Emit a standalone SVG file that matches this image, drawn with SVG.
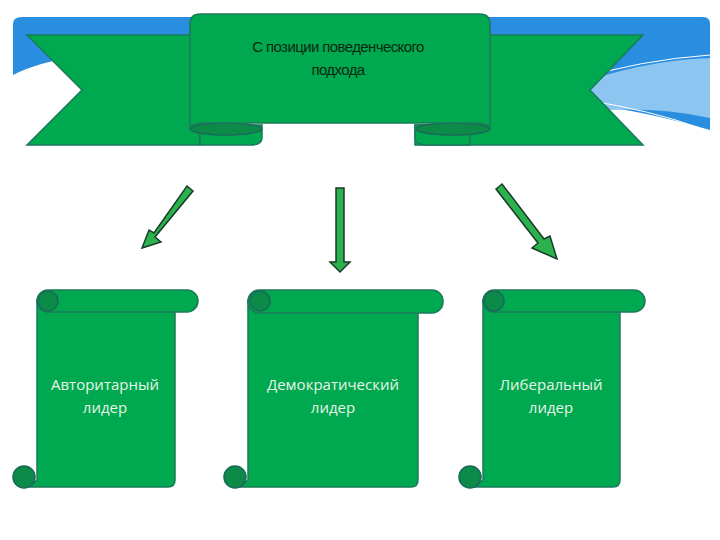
<svg xmlns="http://www.w3.org/2000/svg" width="720" height="540" viewBox="0 0 720 540">
<style>
.g{fill:#00a84f;stroke:#1a7a5a;stroke-width:1.5}
.d{fill:#0c8a48;stroke:#1a6a5a;stroke-width:1.5}
.t{font-family:"Open Sans","DejaVu Sans",sans-serif;font-size:15px;fill:#e8f5e8;text-anchor:middle}
.h{font-family:"Liberation Sans",Arial,sans-serif;font-size:15px;fill:#0a2a10;text-anchor:middle;letter-spacing:-0.6px}
.a{fill:#2bb24c;stroke:#1a3a2a;stroke-width:1.5}
</style>
<rect width="720" height="540" fill="#fff"/>
<g id="background">
<path d="M13,24 Q13,17 22,17 L703,17 Q710,17 710,24 L710,130 Q640,110 590,105 L590,70 Q400,40 200,45 Q60,50 13,75 Z" fill="#2a8ee0"/>
<path d="M560,90 Q640,60 710,58 L710,118 Q650,105 580,112 Z" fill="#8cc6f0"/>
<path d="M575,80 Q640,60 710,55" fill="none" stroke="#fff" stroke-width="1"/>
<path d="M585,100 Q650,110 700,128" fill="none" stroke="#fff" stroke-width="1"/>
</g>
<g id="banner">
<polygon class="g" points="27,35 200,35 200,145 27,145 82,90"/>
<polygon class="g" points="480,35 643,35 590,90 643,145 415,145 415,125 480,125"/>
<path class="g" d="M262,125 L262,138 Q262,145 250,145 L200,145 L200,125 Z"/>
<path class="g" d="M415,125 L415,138 Q415,145 427,145 L470,145 L470,125 Z"/>
<ellipse class="d" cx="226" cy="129" rx="36" ry="6"/>
<ellipse class="d" cx="453" cy="129" rx="37" ry="6"/>
<path class="g" d="M190,24 Q190,14 200,14 L480,14 Q490,14 490,24 L490,128 Q490,123 470,123 L210,123 Q190,123 190,128 Z"/>
<text class="h" x="338" y="52">С позиции поведенческого</text>
<text class="h" x="338" y="75">подхода</text>
</g>
<g id="connectors">
<polygon class="a" points="187,186 193,191 155,237 161,242 142,248 149,230 154,233" />
<polygon class="a" points="336,188 344,188 344,262 350,262 340,272 330,262 336,262"/>
<polygon class="a" points="502,184 496,189 538,243 532,248 557,259 550,236 544,239"/>
</g>
<g id="scroll1">
<path class="g" d="M37,300 L175,300 L175,480 Q175,487 168,487 L30,487 L37,480 Z"/>
<rect class="g" x="37" y="290" width="161" height="22" rx="11"/>
<circle class="d" cx="48" cy="301" r="10"/>
<circle class="d" cx="24" cy="477" r="11"/>
<text class="t" x="105" y="390">Авторитарный</text>
<text class="t" x="105" y="413">лидер</text>
</g>
<g id="scroll2">
<path class="g" d="M248,300 L418,300 L418,480 Q418,487 411,487 L240,487 L248,480 Z"/>
<rect class="g" x="248" y="290" width="195" height="23" rx="11"/>
<circle class="d" cx="260" cy="301" r="10"/>
<circle class="d" cx="235" cy="477" r="11"/>
<text class="t" x="333" y="390">Демократический</text>
<text class="t" x="333" y="413">лидер</text>
</g>
<g id="scroll3">
<path class="g" d="M483,300 L620,300 L620,480 Q620,487 613,487 L475,487 L483,480 Z"/>
<rect class="g" x="483" y="290" width="162" height="22" rx="11"/>
<circle class="d" cx="494" cy="301" r="10"/>
<circle class="d" cx="470" cy="477" r="11"/>
<text class="t" x="551" y="390">Либеральный</text>
<text class="t" x="551" y="413">лидер</text>
</g>
</svg>
